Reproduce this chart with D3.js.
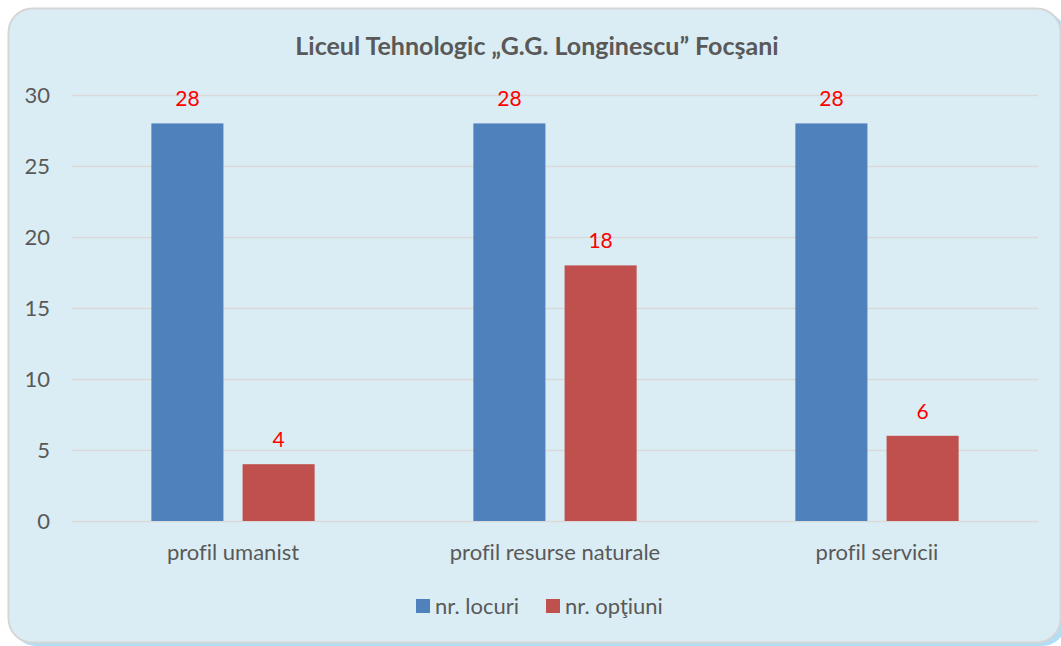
<!DOCTYPE html>
<meta charset="utf-8">
<style>
  body { margin: 0; background: #fff; }
  text { font-variant-ligatures: none; }
  .label { font-family: Lato, "Noto Sans", sans-serif; fill: #595959; font-size: 22px; }
  .title { font-family: Lato, "Noto Sans", sans-serif; fill: #595959; font-size: 25px; font-weight: bold; }
  .val { font-family: Lato, "Noto Sans", sans-serif; fill: #ff0000; font-size: 21px; }
</style>
<script src="https://d3js.org/d3.v7.min.js"></script>
<div id="chart"></div>
<script>
  // data
  const categories = ["profil umanist", "profil resurse naturale", "profil servicii"];
  const series = ["nr. locuri", "nr. opţiuni"];
  const locuri = [28, 28, 28];
  const optiuni = [4, 18, 6];
  const yTicks = [0, 5, 10, 15, 20, 25, 30];
  const colors = ["#4f81bd", "#c0504d"];

  const W = 1061, H = 646;
  const plot = {left: 72, right: 1038, top: 95, bottom: 521};

  const svg = d3.select("#chart").append("svg")
    .attr("width", W).attr("height", H);

  // card background
  svg.append("rect")
    .attr("x", 12).attr("y", 12).attr("width", 1054).attr("height", 634)
    .attr("rx", 24).attr("fill", "#8fd0f0").attr("opacity", 0.7);
  svg.append("rect")
    .attr("x", 8.5).attr("y", 8.5).attr("width", 1052).attr("height", 634)
    .attr("rx", 24)
    .attr("fill", "#dbedf4")
    .attr("stroke", "#d6d6d6").attr("stroke-width", 2);

  const table = categories.map((c, i) => ({cat: c, vals: [locuri[i], optiuni[i]]}));

  const x0 = d3.scaleBand().domain(categories).range([plot.left, plot.right]);
  const x1 = d3.scaleBand().domain(series).range([0, x0.bandwidth()])
    .paddingInner(0.21).paddingOuter(0.87);
  const y = d3.scaleLinear().domain([0, 30]).range([plot.bottom, plot.top]);

  // grid lines
  svg.append("g")
    .attr("transform", `translate(${plot.left},0)`)
    .call(d3.axisLeft(y).tickValues(yTicks).tickSize(-(plot.right - plot.left)).tickFormat(""))
    .call(g => g.select(".domain").remove())
    .call(g => g.selectAll("line").attr("stroke", "#d9d9d9").attr("stroke-width", 1.5));

  // y tick labels
  svg.append("g").selectAll("text")
    .data(yTicks)
    .join("text")
    .attr("class", "label")
    .attr("x", 50)
    .attr("y", d => y(d))
    .attr("dy", "0.35em")
    .attr("text-anchor", "end")
    .text(d => d);

  // bars
  const grp = svg.append("g").selectAll("g")
    .data(table)
    .join("g")
    .attr("transform", d => `translate(${x0(d.cat)},0)`);

  grp.selectAll("rect")
    .data(d => d.vals.map((v, j) => ({s: series[j], v: v, j: j})))
    .join("rect")
    .attr("x", d => x1(d.s))
    .attr("y", d => y(d.v))
    .attr("width", x1.bandwidth())
    .attr("height", d => y(0) - y(d.v))
    .attr("fill", d => colors[d.j]);

  grp.selectAll("text.val")
    .data(d => d.vals.map((v, j) => ({s: series[j], v: v, j: j})))
    .join("text")
    .attr("class", "val")
    .attr("x", d => x1(d.s) + x1.bandwidth() / 2)
    .attr("y", d => y(d.v) - 17)
    .attr("text-anchor", "middle")
    .text(d => d.v);

  // x category labels
  svg.append("g").selectAll("text")
    .data(categories)
    .join("text")
    .attr("class", "label")
    .attr("x", d => x0(d) + x0.bandwidth() / 2)
    .attr("y", 560)
    .attr("text-anchor", "middle")
    .text(d => d);

  // title
  svg.append("text")
    .attr("class", "title")
    .attr("x", 537).attr("y", 55)
    .attr("text-anchor", "middle")
    .text("Liceul Tehnologic „G.G. Longinescu” Focşani");

  // legend
  const legX = [416, 546];
  const leg = svg.append("g").selectAll("g")
    .data(series)
    .join("g")
    .attr("transform", (d, i) => `translate(${legX[i]},599)`);
  leg.append("rect").attr("width", 14).attr("height", 14).attr("fill", (d, i) => colors[i]);
  leg.append("text").attr("class", "label")
    .attr("x", 19).attr("y", 7).attr("dy", "0.35em")
    .text(d => d);
</script>
